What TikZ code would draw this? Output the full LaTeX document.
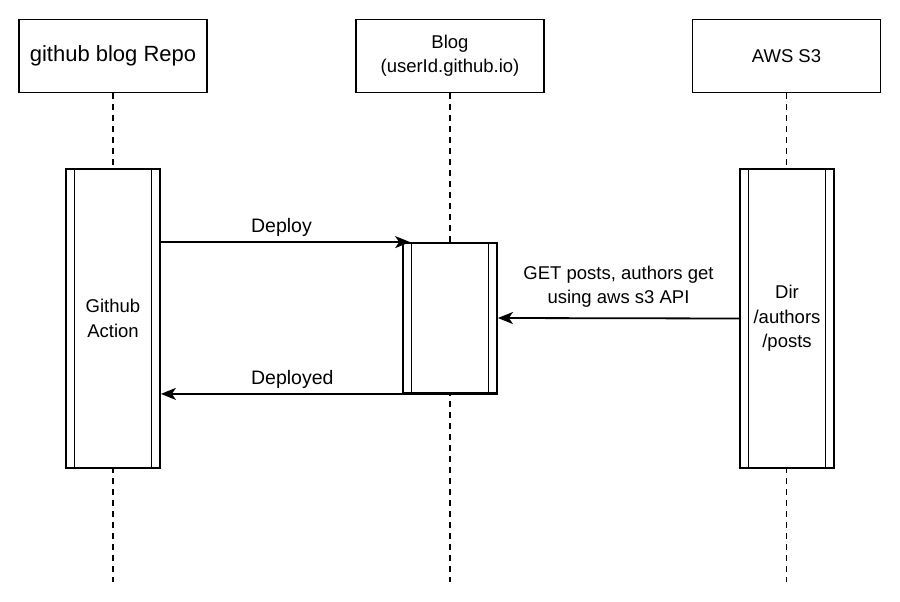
\documentclass[tikz,border=0pt]{standalone}
\usepackage{fontspec}
\setmainfont{Liberation Sans}
\usetikzlibrary{arrows.meta}
\begin{document}
\begin{tikzpicture}[x=1pt,y=-1pt,
  headbox/.style={draw,line width=1.8pt,fill=white,minimum width=188pt,minimum height=73pt,inner sep=0pt,align=center,font=\fontsize{18.5}{24}\selectfont},
  actbox/.style={draw,line width=1.8pt,fill=white,minimum width=94pt,inner sep=0pt,align=center,font=\fontsize{18.5}{24.5}\selectfont},
  lifeline/.style={line width=1.8pt,dash pattern=on 6pt off 5pt},
  inner/.style={line width=1.2pt},
  msg/.style={line width=1.8pt,-{Stealth[length=15pt,width=12pt,inset=4pt]}},
  lbl/.style={font=\fontsize{18.5}{24}\selectfont,align=center}
]
\useasboundingbox (0,0) rectangle (900,602);
\fill[white] (0,0) rectangle (900,602);
% lifeline ends
\coordinate (e1) at (113,582);
\coordinate (e2) at (450,582);
\coordinate (e3) at (786.5,582);
% heads
\node[headbox,font=\fontsize{22}{26}\selectfont] (h1) at (113,56) {github blog Repo};
\node[headbox] (h2) at (450,56) {Blog\\(userId.github.io)};
\node[headbox] (h3) at (786.5,56) {AWS S3};
% lifelines
\draw[lifeline] (h1.south) -- (e1);
\draw[lifeline] (h2.south) -- (e2);
\draw[lifeline] (h3.south) -- (e3);
% activations
\node[actbox,minimum height=299pt] (a1) at (113,318.5) {Github\\Action};
\node[actbox,minimum height=150pt] (a2) at (450,318) {};
\node[actbox,minimum height=299pt] (a3) at (787,318.5) {Dir\\/authors\\/posts};
\foreach \n in {a1,a2,a3}{
  \draw[inner] ([xshift=9.5pt]\n.north west) -- ([xshift=9.5pt]\n.south west);
  \draw[inner] ([xshift=-9.5pt]\n.north east) -- ([xshift=-9.5pt]\n.south east);
}
% messages
\draw[msg,shorten >=-8pt] (a1.east |- a2.north west) -- node[lbl,above=1pt,font=\fontsize{19.5}{24}\selectfont] {Deploy} (a2.north west);
\draw[msg] (a2.south east) -- node[lbl,above=1pt,pos=0.61,font=\fontsize{19.5}{24}\selectfont] {Deployed} (a1.east |- a2.south east);
\draw[msg] (a3.west) -- node[lbl,above=7pt] {GET posts, authors get\\using aws s3 API} (a2.east);
\end{tikzpicture}
\end{document}
